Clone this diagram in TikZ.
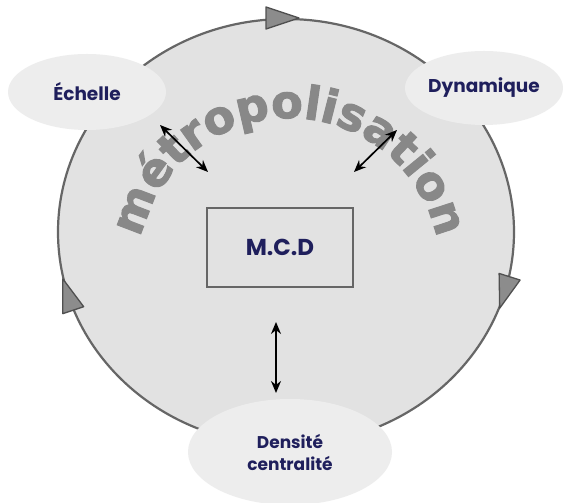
\documentclass[tikz,border=0pt]{standalone}
\usepackage{fontspec}
\usetikzlibrary{shapes.geometric,arrows.meta,decorations.text}
\newfontfamily\lblfont{Poppins}
\newfontfamily\arcfont{DejaVu Sans}[BoldFeatures={FakeBold=2.2}]
\definecolor{ringfill}{HTML}{E2E2E2}
\definecolor{ringline}{HTML}{666666}
\definecolor{bubble}{HTML}{EDEDED}
\definecolor{ink}{HTML}{1F1F5C}
\definecolor{arcgray}{HTML}{888888}
\definecolor{tipfill}{HTML}{8C8C8C}
\definecolor{tipline}{HTML}{505050}
\begin{document}
\begin{tikzpicture}[x=1pt,y=1pt,
  bubblenode/.style={ellipse, fill=bubble, inner sep=0pt, text=ink,
    font=\lblfont\bfseries\fontsize{18.5}{22}\selectfont, align=center},
  corebox/.style={rectangle, draw=ringline, line width=1.6pt, fill=ringfill,
    minimum width=146pt, minimum height=79pt, text=ink,
    font=\lblfont\bfseries\fontsize{23}{26}\selectfont},
  linkarrow/.style={{Stealth[length=12pt,width=10pt]}-{Stealth[length=12pt,width=10pt]},
    line width=1.7pt, black},
  cycletip/.style={fill=tipfill, draw=tipline, line width=1.3pt, line join=round}]
\clip (0,0) rectangle (563,503);
\fill[white] (0,0) rectangle (563,503);

% the ring
\draw[fill=ringfill, draw=ringline, line width=2.2pt]
  (286,271) ellipse [x radius=228pt, y radius=213pt];

% clockwise direction markers on the ring
\foreach \px/\py/\ang in {282/485/0, 504.8/211/252.5, 68.2/208/108.4}{
  \draw[cycletip, shift={(\px,\py)}, rotate=\ang]
    (17,0) -- (-16,11) -- (-16,-11) -- cycle;
}

% curved title
\path[decorate, decoration={text along path, text align=center,
  text={|\arcfont\bfseries\fontsize{46}{50}\selectfont\color{arcgray}|métropolisation}}]
  (289,234) ++(174:151pt) arc[start angle=174, end angle=6, radius=151pt];

% the four items
\node[bubblenode, minimum width=158pt, minimum height=76pt] (ech) at (87,411) {Échelle};
\node[bubblenode, minimum width=158pt, minimum height=74pt] (dyn) at (484,415) {Dynamique};
\node[bubblenode, minimum width=204pt, minimum height=106pt,
  font=\lblfont\bfseries\fontsize{17}{22}\selectfont] (den) at (290,51) {Densité\\centralité};
\node[corebox] (mcd) at (280,255.5) {M.C.D};

% links
\coordinate (echA) at (160,378);
\coordinate (echB) at (208,331);
\coordinate (dynA) at (397,373);
\coordinate (dynB) at (354,331);
\coordinate (denA) at (276,181);
\coordinate (denB) at (276,110);
\draw[linkarrow] (echA) -- (echB);
\draw[linkarrow] (dynA) -- (dynB);
\draw[linkarrow] (denA) -- (denB);
\end{tikzpicture}
\end{document}
